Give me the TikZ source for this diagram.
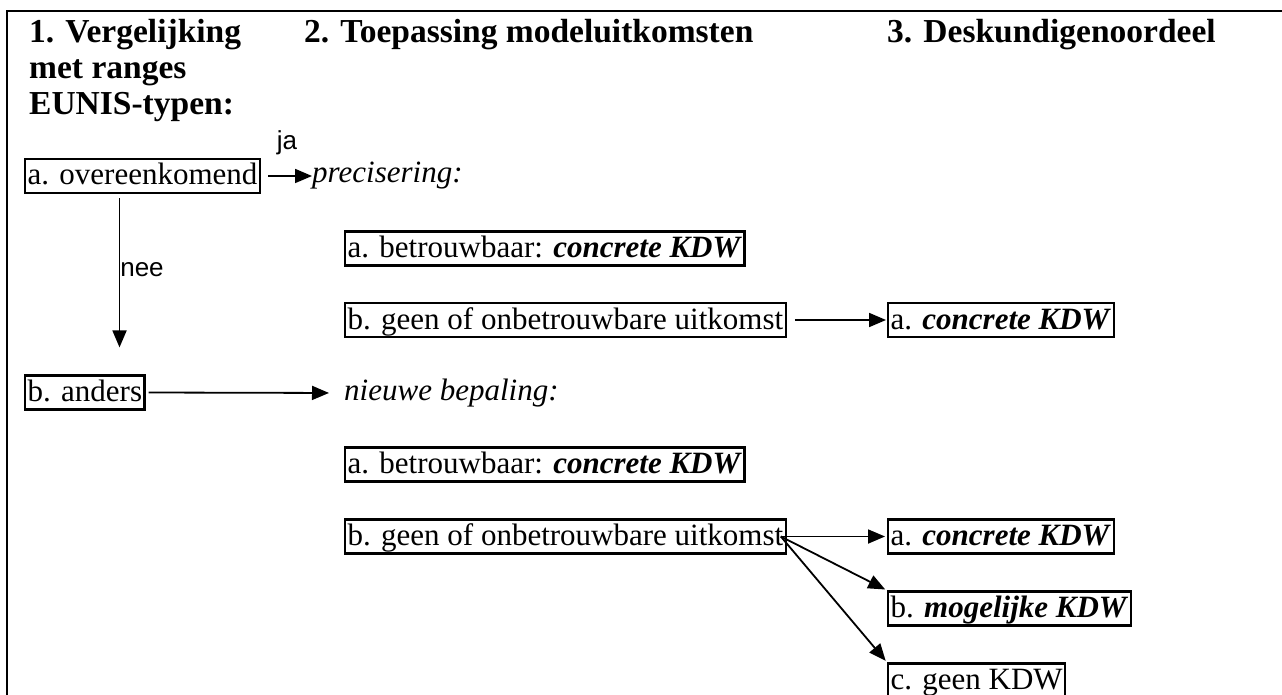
\documentclass[tikz,border=0pt]{standalone}
\usepackage{fontspec}
\setmainfont{Liberation Serif}
\newfontfamily\labelfont{Liberation Sans}
\usetikzlibrary{arrows.meta}

\tikzset{
  box/.style={draw, line width=2.2pt, inner xsep=2.5pt, inner ysep=0pt,
              text height=26pt, text depth=8pt, anchor=west},
  plain/.style={inner sep=0pt, anchor=west},
  yesno/.style={font=\labelfont\fontsize{26}{26}\selectfont},
  head/.style={inner sep=0pt, anchor=base west, align=left,
               font=\fontsize{33.5}{36}\selectfont\bfseries},
  arr/.style={line width=1.8pt, -{Triangle[length=17pt,width=14pt]}}
}
\newcommand{\kdw}[1]{\textbf{\textit{#1}}}

\begin{document}
\begin{tikzpicture}[x=1pt, y=-1pt, font=\fontsize{31}{32}\selectfont]
\useasboundingbox (0,0) rectangle (1282,695);

% outline
\draw[line width=2.4pt] (7,695) -- (7,11) -- (1282,11);

% column heads (base = last line)
\node[head] (hdA) at (29,115) {1. Vergelijking\\met ranges\\EUNIS-typen:};
\node[head] (hdB) at (304,43) {2. Toepassing modeluitkomsten};
\node[head] (hdC) at (887,43) {3. Deskundigenoordeel};

% column 1
\node[box] (ovk) at (24,176) {a. overeenkomend};
\node[box] (and) at (24,392.5) {b. anders};

% column 2
\node[plain] (prc) at (312,176) {\textit{precisering:}};
\node[box] (preA) at (344,248.5) {a. betrouwbaar: \kdw{concrete KDW}};
\node[box] (preB) at (344,320) {b. geen of onbetrouwbare uitkomst};
\node[plain] (nwb) at (344,393) {\textit{nieuwe bepaling:}};
\node[box] (nwA) at (344,464.5) {a. betrouwbaar: \kdw{concrete KDW}};
\node[box] (nwB) at (344,536.5) {b. geen of onbetrouwbare uitkomst};

% column 3
\node[box] (oorA) at (887,320) {a. \kdw{concrete KDW}};
\node[box] (nwoA) at (887,536.5) {a. \kdw{concrete KDW}};
\node[box] (nwoB) at (887,608.5) {b. \kdw{mogelijke KDW}};
\node[box] (nwoC) at (887,680.5) {c. geen KDW};

% labels
\node[yesno] (ja) at (287,143) {ja};
\node[yesno] (nee) at (142,270) {nee};

% arrows
\draw[arr, shorten <=7pt] (ovk.east) -- (prc.west);
\draw[arr, shorten <=4pt, shorten >=27pt] ([xshift=-23pt]ovk.south) -- ([xshift=-23pt]ovk.south |- and.north);
\draw[arr, shorten <=3pt, shorten >=15pt] (and.east) -- (nwb.west);
\draw[arr, shorten <=8pt, shorten >=1pt] (preB.east) -- (oorA.west);
\coordinate (fan) at ([xshift=-6pt]nwB.east);
\draw[arr, shorten >=2pt] (fan) -- (nwoA.west);
\draw[arr, shorten >=2pt] (fan) -- (nwoB.north west);
\draw[arr, shorten >=2pt] (fan) -- (nwoC.north west);
\end{tikzpicture}
\end{document}
